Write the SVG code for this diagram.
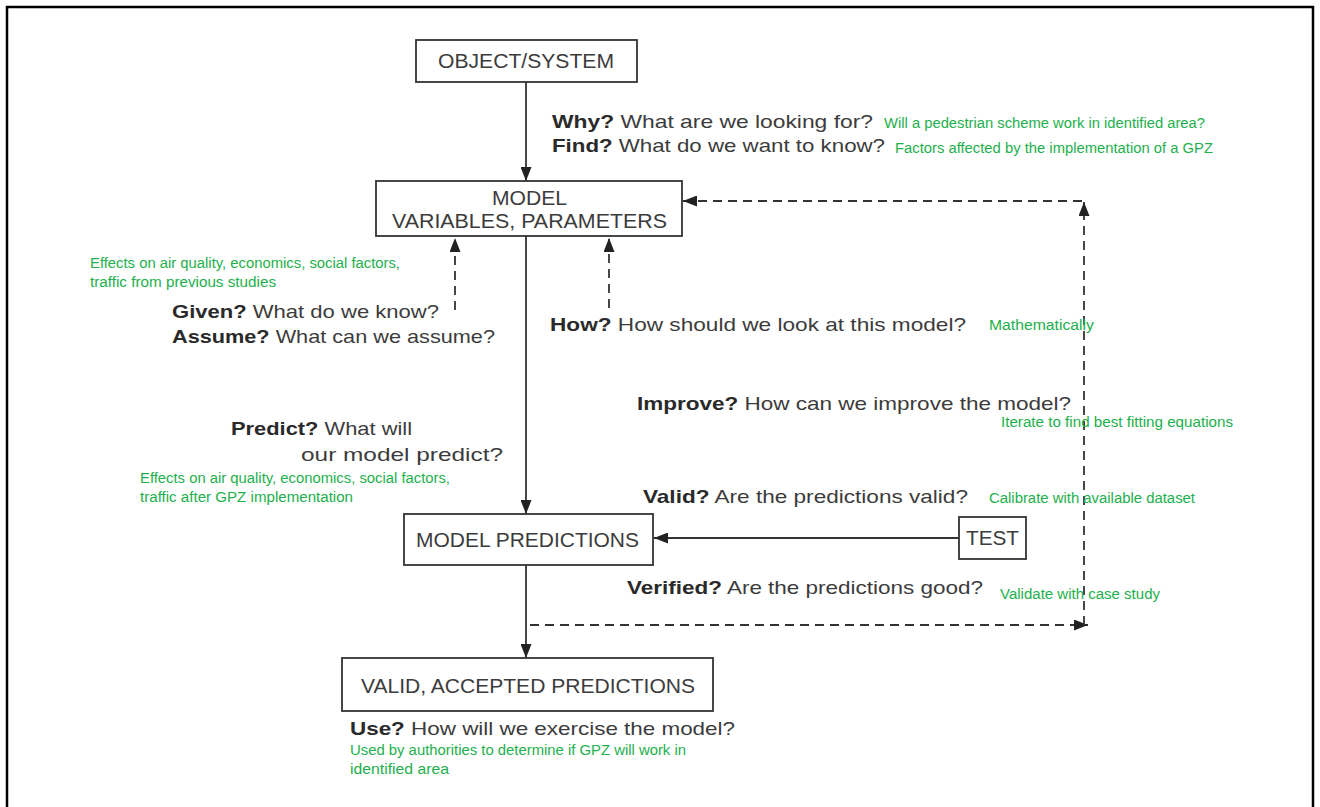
<svg xmlns="http://www.w3.org/2000/svg" width="1320" height="807" viewBox="0 0 1320 807">
<style>
.box{fill:#fff;stroke:#333;stroke-width:1.8}
.t{font-family:"Liberation Sans",Arial,sans-serif;font-size:18.5px;fill:#3c3c3c}
.n{font-size:19.5px}
.b{font-weight:bold;fill:#2a2a2a}
.g{font-family:"Liberation Sans",Arial,sans-serif;font-size:14px;fill:#22b04c}
.ln{stroke:#333;stroke-width:1.8;fill:none}
.dl{stroke:#333;stroke-width:1.8;fill:none;stroke-dasharray:9,6}
</style>
<defs>
<marker id="ah2" viewBox="0 0 10 10" refX="10" refY="5" markerWidth="14" markerHeight="11" orient="auto" markerUnits="userSpaceOnUse" preserveAspectRatio="none">
<path d="M0,0 L10,5 L0,10 z" fill="#222"/>
</marker>
</defs>
<rect x="7" y="7" width="1306" height="806" fill="#fff" stroke="#000" stroke-width="2.5"/>

<g id="connectors">
<line class="ln" x1="526" y1="82" x2="526" y2="181" marker-end="url(#ah2)"/>
<line class="ln" x1="526" y1="236" x2="526" y2="514" marker-end="url(#ah2)"/>
<line class="ln" x1="526" y1="565" x2="526" y2="658" marker-end="url(#ah2)"/>
<line class="ln" x1="959" y1="538" x2="654" y2="538" marker-end="url(#ah2)"/>
<line class="dl" x1="455" y1="310" x2="455" y2="238" marker-end="url(#ah2)"/>
<line class="dl" x1="609" y1="308" x2="609" y2="238" marker-end="url(#ah2)"/>
<line class="dl" x1="530" y1="625" x2="1088" y2="625" marker-end="url(#ah2)"/>
<line class="dl" x1="1084" y1="625" x2="1084" y2="202" marker-end="url(#ah2)"/>
<line class="dl" x1="1082" y1="201" x2="683" y2="201" marker-end="url(#ah2)"/>
</g>

<g id="object-system">
<rect class="box" x="416" y="40" width="221" height="42"/>
<text class="t n" x="526" y="68" text-anchor="middle" textLength="176" lengthAdjust="spacingAndGlyphs">OBJECT/SYSTEM</text>
</g>
<g id="model">
<rect class="box" x="376" y="181" width="306" height="55"/>
<text class="t n" x="492" y="205" textLength="75" lengthAdjust="spacingAndGlyphs">MODEL</text>
<text class="t n" x="392" y="228" textLength="275" lengthAdjust="spacingAndGlyphs">VARIABLES, PARAMETERS</text>
</g>
<g id="model-predictions">
<rect class="box" x="404" y="514" width="249" height="51"/>
<text class="t n" x="416" y="547" textLength="223" lengthAdjust="spacingAndGlyphs">MODEL PREDICTIONS</text>
</g>
<g id="test">
<rect class="box" x="959" y="517" width="67" height="42"/>
<text class="t n" x="966" y="545" textLength="53" lengthAdjust="spacingAndGlyphs">TEST</text>
</g>
<g id="valid-accepted">
<rect class="box" x="342" y="658" width="371" height="53"/>
<text class="t n" x="361" y="693" textLength="334" lengthAdjust="spacingAndGlyphs">VALID, ACCEPTED PREDICTIONS</text>
</g>

<g id="labels">
<text class="t" x="552" y="128" textLength="321" lengthAdjust="spacingAndGlyphs"><tspan class="b">Why?</tspan> What are we looking for?</text>
<text class="g" x="884" y="128" textLength="321" lengthAdjust="spacingAndGlyphs">Will a pedestrian scheme work in identified area?</text>
<text class="t" x="552" y="152" textLength="333" lengthAdjust="spacingAndGlyphs"><tspan class="b">Find?</tspan> What do we want to know?</text>
<text class="g" x="895" y="153" textLength="318" lengthAdjust="spacingAndGlyphs">Factors affected by the  implementation of a GPZ</text>

<text class="g" x="90" y="268" textLength="310" lengthAdjust="spacingAndGlyphs">Effects on air quality, economics, social factors,</text>
<text class="g" x="90" y="287" textLength="186" lengthAdjust="spacingAndGlyphs">traffic from previous studies</text>
<text class="t" x="172" y="318" textLength="267" lengthAdjust="spacingAndGlyphs"><tspan class="b">Given?</tspan> What do we know?</text>
<text class="t" x="172" y="343" textLength="323" lengthAdjust="spacingAndGlyphs"><tspan class="b">Assume?</tspan> What can we assume?</text>

<text class="t" x="550" y="331" textLength="416" lengthAdjust="spacingAndGlyphs"><tspan class="b">How?</tspan> How should we look at this model?</text>
<text class="g" x="989" y="330" textLength="105" lengthAdjust="spacingAndGlyphs">Mathematically</text>

<text class="t" x="637" y="410" textLength="434" lengthAdjust="spacingAndGlyphs"><tspan class="b">Improve?</tspan> How can we improve the model?</text>
<text class="g" x="1001" y="427" textLength="232" lengthAdjust="spacingAndGlyphs">Iterate to find best fitting equations</text>

<text class="t" x="231" y="435" textLength="181" lengthAdjust="spacingAndGlyphs"><tspan class="b">Predict?</tspan> What will</text>
<text class="t" x="301" y="461" textLength="202" lengthAdjust="spacingAndGlyphs">our model predict?</text>
<text class="g" x="140" y="483" textLength="310" lengthAdjust="spacingAndGlyphs">Effects on air quality, economics, social factors,</text>
<text class="g" x="140" y="502" textLength="213" lengthAdjust="spacingAndGlyphs">traffic after GPZ implementation</text>

<text class="t" x="643" y="503" textLength="325" lengthAdjust="spacingAndGlyphs"><tspan class="b">Valid?</tspan> Are the predictions valid?</text>
<text class="g" x="989" y="503" textLength="206" lengthAdjust="spacingAndGlyphs">Calibrate with available dataset</text>

<text class="t" x="627" y="594" textLength="356" lengthAdjust="spacingAndGlyphs"><tspan class="b">Verified?</tspan> Are the predictions good?</text>
<text class="g" x="1000" y="599" textLength="160" lengthAdjust="spacingAndGlyphs">Validate with case study</text>

<text class="t" x="350" y="735" textLength="385" lengthAdjust="spacingAndGlyphs"><tspan class="b">Use?</tspan> How will we exercise the model?</text>
<text class="g" x="350" y="755" textLength="336" lengthAdjust="spacingAndGlyphs">Used by authorities to determine if GPZ will work in</text>
<text class="g" x="350" y="774" textLength="99" lengthAdjust="spacingAndGlyphs">identified area</text>
</g>
</svg>
